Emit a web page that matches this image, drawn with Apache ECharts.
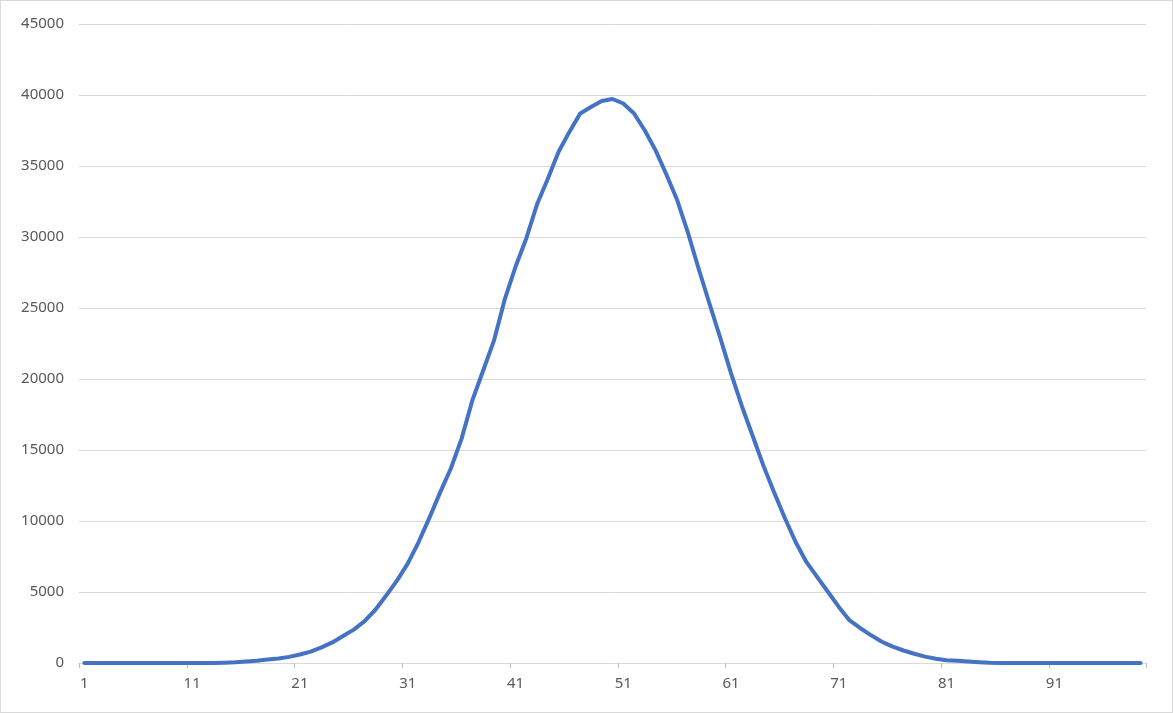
<!DOCTYPE html>
<html>
<head>
<meta charset="utf-8">
<title>Line</title>
<script src="https://cdn.jsdelivr.net/npm/echarts@6/dist/echarts.min.js"></script>
<style>
	*{
		margin:0;
		padding:0;
	}
	#main{
		width:1171px;
		height:711px;
		border:1px solid #d9d9d9;
		background:#fff;
	}
</style>
</head>
<body>
<div id="main"></div>
<script>
// categories 1..99
var categories = [];
for (var i = 1; i <= 99; i++) {
	categories.push(String(i));
}

// values
var counts = [
	0, 0, 0, 0, 0, 0, 0, 0, 0, 0,
	0, 0, 0, 20, 50, 100, 160, 240, 320, 430,
	600, 800, 1100, 1450, 1900, 2350, 2950, 3750, 4750, 5800,
	7000, 8500, 10200, 12000, 13700, 15800, 18500, 20600, 22700, 25600,
	27900, 29900, 32300, 34100, 36000, 37400, 38700, 39150, 39580, 39720,
	39400, 38700, 37500, 36100, 34400, 32600, 30300, 27750, 25300, 22900,
	20400, 18100, 16000, 13900, 12000, 10200, 8500, 7100, 6050, 5000,
	3950, 3000, 2450, 1950, 1500, 1150, 880, 650, 450, 300,
	200, 150, 110, 60, 20, 0, 0, 0, 0, 0,
	0, 0, 0, 0, 0, 0, 0, 0, 0
];

var yTicks = { min: 0, max: 45000, step: 5000 };

var myChart = echarts.init(document.getElementById('main'));
var option = {
	animation: false,
	grid: {
		left: 78,
		right: 26,
		top: 23,
		bottom: 49
	},
	xAxis: {
		type: 'category',
		data: categories,
		boundaryGap: true,
		axisLine: { lineStyle: { color: '#d9d9d9', width: 1 } },
		axisTick: {
			show: true,
			interval: 9,
			length: 5,
			lineStyle: { color: '#bfbfbf', width: 1 }
		},
		axisLabel: {
			interval: 9,
			color: '#595959',
			fontFamily: 'Noto Sans',
			fontSize: 15,
			margin: 13
		}
	},
	yAxis: {
		type: 'value',
		min: yTicks.min,
		max: yTicks.max,
		interval: yTicks.step,
		axisLine: { show: false },
		axisTick: { show: false },
		splitLine: { lineStyle: { color: '#d9d9d9', width: 1 } },
		axisLabel: {
			color: '#595959',
			fontFamily: 'Noto Sans',
			fontSize: 15,
			margin: 15,
			formatter: function (v) { return String(v); }
		}
	},
	series: [
		{
			type: 'line',
			data: counts,
			showSymbol: false,
			lineStyle: { color: '#4472c4', width: 4, cap: 'round', join: 'round' }
		}
	]
};
myChart.setOption(option);
</script>
</body>
</html>
